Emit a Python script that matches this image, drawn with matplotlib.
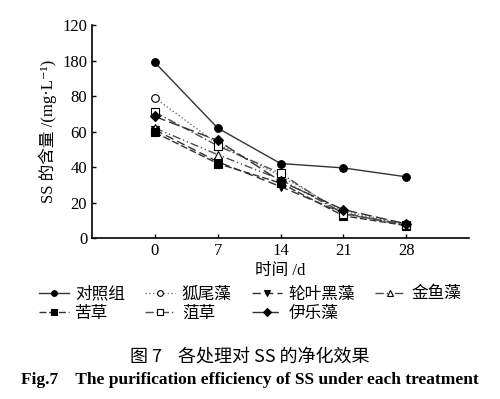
import numpy as np
import matplotlib
matplotlib.use("Agg")
import matplotlib.pyplot as plt

plt.rcParams['font.family'] = ['Liberation Serif', 'Noto Sans CJK SC', 'DejaVu Sans']

days = [0, 7, 14, 21, 28]
ytick_vals = [0, 20, 40, 60, 80, 100, 120]
ytick_labels = ['0', '20', '40', '60', '80', '180', '120']

names = ['对照组', '狐尾藻', '轮叶黑藻', '金鱼藻', '苦草', '菹草', '伊乐藻']
control = [99, 62, 42, 39.5, 34.5]
hulizao = [79, 53, 35, 15, 8]
lunye = [61, 43, 29, 14, 7]
jinyu = [62, 47, 33, 14, 7.5]
kucao = [59.5, 42, 31, 12.5, 7]
zucao = [71, 52, 36.5, 13.5, 7.5]
yile = [68.5, 55, 32, 16, 8]

series = [control, hulizao, lunye, jinyu, kucao, zucao, yile]
styles = [
    dict(ls='-', marker='o', mfc='black', color='0.2'),
    dict(ls=':', marker='o', mfc='white', color='0.45'),
    dict(ls=(0, (6, 3)), marker='v', mfc='black', color='0.2'),
    dict(ls=(0, (6, 2, 1, 2, 1, 2)), marker='^', mfc='white', color='0.3'),
    dict(ls=(0, (5, 2)), marker='s', mfc='black', color='0.2'),
    dict(ls=(0, (6, 2, 1, 2)), marker='s', mfc='white', color='0.3'),
    dict(ls=(0, (8, 3)), marker='D', mfc='black', color='0.2'),
]

fig = plt.figure(figsize=(5.0, 3.99), dpi=100)
ax = fig.add_axes([0.184, 0.4035, 0.754, 0.5335])

lines = []
for name, vals, st in zip(names, series, styles):
    ms = 5 if st['marker'] == 'D' else 5.5
    ln, = ax.plot(days, vals, linestyle=st['ls'], color=st['color'], lw=1.0,
                  marker=st['marker'], markersize=ms, markerfacecolor=st['mfc'],
                  markeredgecolor='black', markeredgewidth=0.8, label=name)
    lines.append(ln)

ax.set_xlim(-7, 35)
ax.set_ylim(0, 120)
ax.set_xticks(days)
ax.set_yticks(ytick_vals)
ax.set_yticklabels(ytick_labels)
ax.tick_params(direction='in', length=3, labelsize=12, width=1)
ax.spines['top'].set_visible(False)
ax.spines['right'].set_visible(False)
for s in ['left', 'bottom']:
    ax.spines[s].set_linewidth(1.2)

ax.set_xlabel('时间 /d', fontsize=12, labelpad=3)
ax.set_ylabel('SS 的含量 /(mg·L⁻¹)', fontsize=12, labelpad=4)

# legend is filled column by column, so reorder to get rows like the original
order = [0, 4, 1, 5, 2, 6, 3]
fig.legend([lines[i] for i in order], [names[i] for i in order],
           loc='center', bbox_to_anchor=(0.5, 0.238), ncol=4, frameon=False,
           fontsize=12, handlelength=1.8, handletextpad=0.4, columnspacing=1.2,
           labelspacing=0.2, borderpad=0, markerscale=0.75)

fig.text(0.5, 0.105, '图 7    各处理对 SS 的净化效果', ha='center', va='center',
         fontsize=13, family=['Noto Sans CJK SC', 'DejaVu Sans'])
fig.text(0.5, 0.047, 'Fig.7    The purification efficiency of SS under each treatment',
         ha='center', va='center', fontsize=12.5, fontweight='bold',
         family='Liberation Serif')

fig.savefig('out.png', dpi=100)
